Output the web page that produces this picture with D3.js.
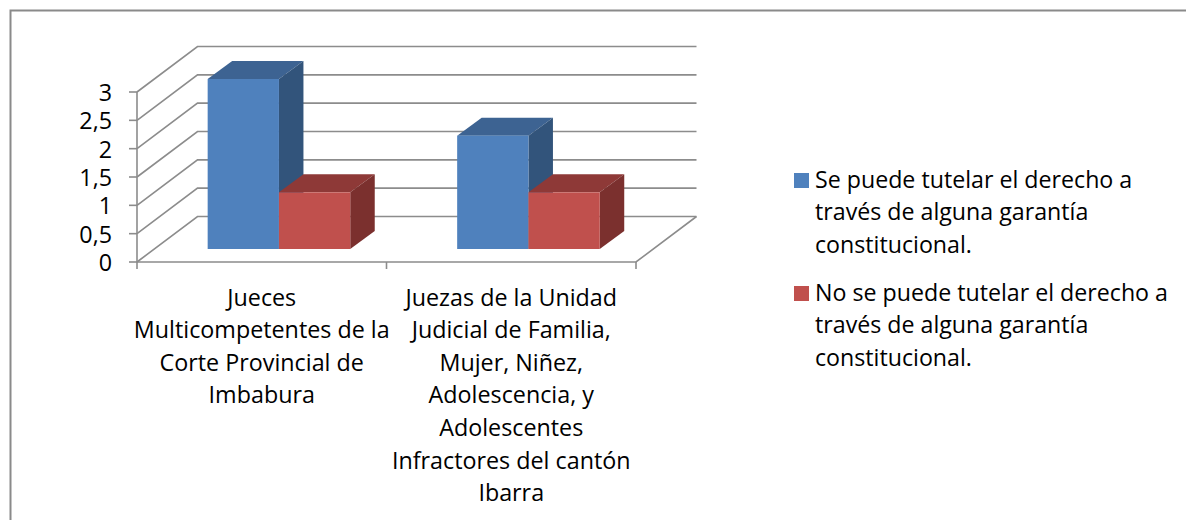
<!DOCTYPE html>
<html><head><meta charset="utf-8">
<script src="https://cdn.jsdelivr.net/npm/d3@7/dist/d3.min.js"></script>
<style>html,body{margin:0;background:#fff}svg{display:block}text{font-family:"Open Sans",sans-serif;fill:#000}</style>
</head><body><svg id="c" width="1186" height="520"></svg>
<script>
const categories = ["c1", "c2"];
const categoryLines = [
  ["Jueces","Multicompetentes de la","Corte Provincial de","Imbabura"],
  ["Juezas de la Unidad","Judicial de Familia,","Mujer, Niñez,","Adolescencia, y","Adolescentes","Infractores del cantón","Ibarra"]
];
const seriesSi = [3, 2];
const seriesNo = [1, 1];
const seriesColors = ["#4f81bd", "#c0504d"];
const topColors = ["#3d6392", "#8e3937"];
const sideColors = ["#32547b", "#7b302e"];
const legendLines = [
  ["Se puede tutelar el derecho a","través de alguna garantía","constitucional."],
  ["No se puede tutelar el derecho a","través de alguna garantía","constitucional."]
];
const yTicks = [0, 0.5, 1, 1.5, 2, 2.5, 3];

const svg = d3.select("#c");
const FS = 23.3, LFS = 23.2;
const grid = "#8c8c8c";
svg.append("path").attr("d","M10.5,520V10.5H1186").attr("fill","none").attr("stroke","#8a8a8a").attr("stroke-width",2);

const x = d3.scaleBand().domain(categories).range([137,636]);
const y = d3.scaleLinear().domain([0,3]).range([262,92]);
const wall = {dx:60.5, dy:-45.5};
const depth = {dx:24.5, dy:-18};
const inset = {dx:17.2, dy:-13};
const fmt = v => String(v).replace(".",",");
const g = svg.append("g");
yTicks.forEach(t=>{
  const yy=y(t);
  g.append("path").attr("fill","none").attr("stroke",grid).attr("stroke-width",1.6)
    .attr("d",`M${x.range()[0]},${yy}L${x.range()[0]+wall.dx},${yy+wall.dy}H${x.range()[1]+wall.dx}`);
  g.append("line").attr("x1",x.range()[0]-8).attr("x2",x.range()[0]).attr("y1",yy).attr("y2",yy).attr("stroke",grid).attr("stroke-width",1.6);
  g.append("text").attr("text-anchor","end").attr("x",112).attr("y",yy+9).attr("font-size",FS).text(fmt(t));
});
g.append("path").attr("fill","none").attr("stroke",grid).attr("stroke-width",1.6)
  .attr("d",`M${x.range()[0]},${y(3)}V${y(0)}H${x.range()[1]}L${x.range()[1]+wall.dx},${y(0)+wall.dy}`);
[...categories.map(c=>x(c)),x.range()[1]].forEach(px=>{
  g.append("line").attr("x1",px).attr("x2",px).attr("y1",y(0)).attr("y2",y(0)+7).attr("stroke",grid).attr("stroke-width",1.6);
});
const inner = d3.scaleBand().domain([0,1]).range([0,x.bandwidth()]).paddingOuter(0.75).paddingInner(0);
function bar(cat,s,v){
  const x0=x(cat)+inset.dx+inner(s), w=inner.bandwidth();
  const yb=y(0)+inset.dy, yt=y(v)+inset.dy;
  const gb=g.append("g");
  gb.append("path").attr("fill",topColors[s]).attr("d",`M${x0},${yt}l${depth.dx},${depth.dy}h${w}l${-depth.dx},${-depth.dy}z`);
  gb.append("path").attr("fill",sideColors[s]).attr("d",`M${x0+w},${yt}l${depth.dx},${depth.dy}V${yb+depth.dy}l${-depth.dx},${-depth.dy}z`);
  gb.append("rect").attr("x",x0).attr("y",yt).attr("width",w).attr("height",yb-yt).attr("fill",seriesColors[s]);
}
categories.forEach((c,i)=>{ bar(c,0,seriesSi[i]); bar(c,1,seriesNo[i]); });
categories.forEach((c,i)=>{
  const t=svg.append("text").attr("text-anchor","middle").attr("font-size",FS);
  categoryLines[i].forEach((l,k)=>t.append("tspan").attr("x",x(c)+x.bandwidth()/2).attr("y",305.5+k*32.6).text(l));
});
const legY=[173,286];
legendLines.forEach((ls,i)=>{
  svg.append("rect").attr("x",794).attr("y",legY[i]).attr("width",15).attr("height",15).attr("fill",seriesColors[i]);
  const t=svg.append("text").attr("font-size",LFS);
  ls.forEach((l,k)=>t.append("tspan").attr("x",815).attr("y",legY[i]+15+k*32.4).text(l));
});
</script></body></html>
